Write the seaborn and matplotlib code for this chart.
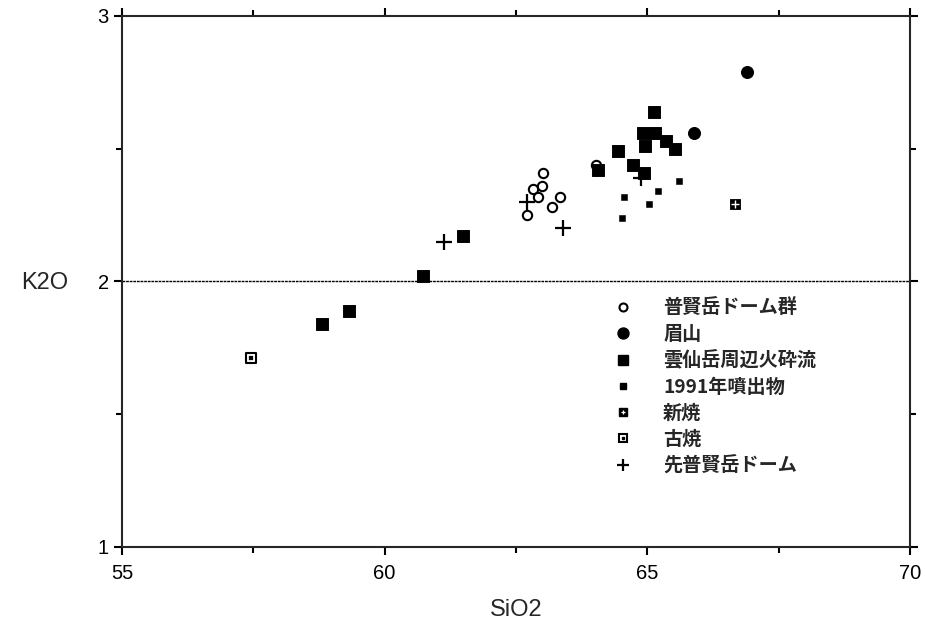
import matplotlib
matplotlib.use('Agg')
import matplotlib.pyplot as plt
from matplotlib.lines import Line2D
import seaborn as sns

# SiO2 / K2O values
fugen_dome_x = [63.02, 62.83, 62.99, 62.92, 63.34, 63.18, 62.71, 64.03]
fugen_dome_y = [2.41, 2.35, 2.36, 2.32, 2.32, 2.28, 2.25, 2.44]

mayuyama_x = [66.90, 65.88]
mayuyama_y = [2.79, 2.56]

pyroclastic_x = [65.12, 64.92, 65.15, 65.36, 65.52, 64.96, 64.44, 64.73, 64.93, 64.07,
                 61.49, 60.73, 59.33, 58.80]
pyroclastic_y = [2.64, 2.56, 2.56, 2.53, 2.50, 2.51, 2.49, 2.44, 2.41, 2.42,
                 2.17, 2.02, 1.89, 1.84]

eruption1991_x = [65.60, 65.20, 64.55, 65.04, 64.52]
eruption1991_y = [2.38, 2.34, 2.32, 2.29, 2.24]

shinyake_x = [66.66]
shinyake_y = [2.29]

furuyake_x = [57.46]
furuyake_y = [1.71]

pre_fugen_x = [62.70, 63.39, 64.87, 61.13]
pre_fugen_y = [2.30, 2.20, 2.39, 2.15]

labels = ['普賢岳ドーム群', '眉山', '雲仙岳周辺火砕流', '1991年噴出物', '新焼', '古焼', '先普賢岳ドーム']

sns.set_style('ticks')
plt.rcParams['font.family'] = ['Liberation Sans', 'Noto Sans CJK JP', 'DejaVu Sans']

fig = plt.figure(figsize=(9.25, 6.27), dpi=100)
ax = fig.add_axes([0.1319, 0.1276, 0.8519, 0.8469])

sns.scatterplot(x=fugen_dome_x, y=fugen_dome_y, marker='o', s=45, facecolor='white',
                edgecolor='black', linewidth=1.5, ax=ax, zorder=3)
sns.scatterplot(x=mayuyama_x, y=mayuyama_y, marker='o', s=75, color='black',
                edgecolor='black', ax=ax, zorder=3)
sns.scatterplot(x=pyroclastic_x, y=pyroclastic_y, marker='s', s=70, color='black',
                edgecolor='black', ax=ax, zorder=3)
sns.scatterplot(x=eruption1991_x, y=eruption1991_y, marker='s', s=25, color='black',
                edgecolor='black', ax=ax, zorder=3)
sns.scatterplot(x=shinyake_x, y=shinyake_y, marker='s', s=60, color='black',
                edgecolor='black', ax=ax, zorder=3)
sns.scatterplot(x=shinyake_x, y=shinyake_y, marker='+', s=30, color='white',
                linewidth=1.0, ax=ax, zorder=4)
sns.scatterplot(x=furuyake_x, y=furuyake_y, marker='s', s=45, facecolor='white',
                edgecolor='black', linewidth=1.5, ax=ax, zorder=3)
sns.scatterplot(x=furuyake_x, y=furuyake_y, marker='s', s=5, color='black',
                edgecolor='black', ax=ax, zorder=4)
sns.scatterplot(x=pre_fugen_x, y=pre_fugen_y, marker='+', s=120, color='black',
                linewidth=1.6, ax=ax, zorder=3)

ax.axhline(2, color='black', lw=1.0, ls=(0, (2, 0.6)), zorder=1)

ax.set_xlim(55, 70)
ax.set_ylim(1, 3)
ax.set_xticks([55, 60, 65, 70])
ax.set_xticks([57.5, 62.5, 67.5], minor=True)
ax.set_yticks([1, 2, 3])
ax.set_yticks([1.5, 2.5], minor=True)
ax.tick_params(which='both', direction='out', top=True, right=True, width=1.5,
               colors='black')
ax.tick_params(which='major', length=6)
ax.tick_params(which='minor', length=4)
ax.tick_params(axis='x', which='major', pad=6.5)
for lab in ax.get_xticklabels() + ax.get_yticklabels():
    lab.set_fontsize(14.5)
for sp in ax.spines.values():
    sp.set_linewidth(1.5)
    sp.set_visible(True)

ax.set_xlabel('SiO2', fontsize=17)
ax.set_ylabel('K2O', fontsize=17, rotation=0, ha='center', va='center')
ax.xaxis.set_label_coords(0.5, -0.097)
ax.yaxis.set_label_coords(-0.098, 0.497)

ms = 0.72  # px -> pt
handles = [
    Line2D([], [], ls='', marker='o', markersize=8 * ms, mfc='white', mec='black', mew=1.5),
    Line2D([], [], ls='', marker='o', markersize=11 * ms, mfc='black', mec='black'),
    Line2D([], [], ls='', marker='s', markersize=10 * ms, mfc='black', mec='black'),
    Line2D([], [], ls='', marker='s', markersize=6 * ms, mfc='black', mec='black'),
    (Line2D([], [], ls='', marker='s', markersize=8 * ms, mfc='black', mec='black'),
     Line2D([], [], ls='', marker='+', markersize=5 * ms, mec='white', mew=0.9)),
    (Line2D([], [], ls='', marker='s', markersize=8 * ms, mfc='white', mec='black', mew=1.5),
     Line2D([], [], ls='', marker='s', markersize=2 * ms, mfc='black', mec='black')),
    Line2D([], [], ls='', marker='+', markersize=12 * ms, mec='black', mew=1.6),
]
leg = ax.legend(handles, labels, loc='upper left', bbox_to_anchor=(0.624, 0.467),
                frameon=False, borderpad=0, borderaxespad=0, handlelength=1.0,
                handletextpad=1.58, labelspacing=0.37,
                prop={'family': ['Noto Sans CJK JP', 'DejaVu Sans'], 'weight': 'bold', 'size': 13.8})

fig.savefig('out.png', dpi=100)
